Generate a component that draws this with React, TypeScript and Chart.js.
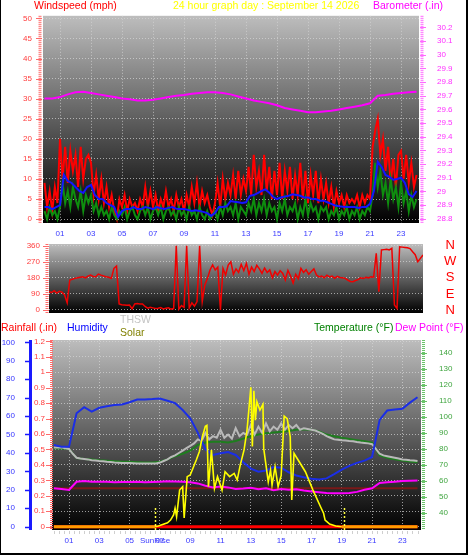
import React, { useEffect, useRef } from "react";
import { Chart, registerables } from "chart.js";

Chart.register(...registerables);

const FONT = "'Liberation Sans', Arial, Helvetica, sans-serif";
Chart.defaults.font.family = FONT;

// ---------------- data ----------------
const hourTicks = [1, 3, 5, 7, 9, 11, 13, 15, 17, 19, 21, 23];
const sunriseHour = 6.68;
const sunsetHour = 19.15;

const windTicks = [0, 5, 10, 15, 20, 25, 30, 35, 40, 45, 50];
const baroTicks = [28.8, 28.9, 29, 29.1, 29.2, 29.3, 29.4, 29.5, 29.6, 29.7, 29.8, 29.9, 30, 30.1, 30.2];

// wind gust (mph), every 10 min
const windGust = [
  9, 3, 7, 2, 8, 4,
  20, 10, 18, 9, 17, 12,
  16, 8, 18, 10, 15, 16,
  14, 6, 11, 5, 10, 4,
  8, 3, 6, 2, 0, 5,
  3, 6, 2, 5, 3, 4,
  2, 5, 3, 8, 3, 7,
  3, 6, 2, 5, 3, 7,
  3, 5, 2, 6, 3, 5,
  2, 6, 3, 8, 4, 9,
  3, 7, 4, 6, 3, 1,
  4, 9, 3, 10, 5, 9,
  6, 11, 5, 12, 6, 10,
  7, 13, 6, 16, 8, 12,
  6, 16, 7, 13, 5, 12,
  6, 14, 5, 12, 7, 13,
  5, 11, 6, 14, 5, 12,
  4, 11, 6, 12, 4, 10,
  5, 9, 4, 8, 3, 7,
  4, 6, 3, 6, 4, 5,
  4, 6, 3, 6, 4, 6,
  5, 18, 22, 25, 16, 20,
  12, 18, 9, 15, 8, 16,
  17, 10, 16, 9, 14, 8,
  11,
];

// average wind (mph), every 15 min
const windAvg = [
  3, 3, 2.5, 3,
  3.5, 11, 9.5, 9,
  8, 7, 6.5, 8,
  8.5, 6, 5, 5,
  4, 3.5, 3, 0.5,
  2, 2.5, 2.5, 3,
  2.5, 2.5, 3, 2.8,
  2.5, 3, 2.7, 2.5,
  2.8, 3, 2.6, 2.5,
  2.5, 2.3, 2, 2.2,
  2, 1.8, 1.5, 0.8,
  1.5, 3, 3, 3.2,
  4.5, 4.3, 4.2, 4,
  4.2, 5.8, 6, 6.5,
  7, 7.4, 6.6, 5.5,
  5, 5.4, 5.6, 5.8,
  6.2, 6, 5.8, 5.4,
  5.4, 5, 5, 4.6,
  4.6, 4.2, 3.8, 3.4,
  3.2, 3.1, 3, 3,
  3, 2.8, 3, 3,
  3.8, 7, 14.3, 13,
  11, 10.5, 9.8, 10,
  10.3, 9, 6.2, 5.5,
  7,
];

// wind speed (mph), every 10 min
const windSpeed = [
  2, 0, 3, 1, 2, 0,
  3, 9, 4, 7, 3, 8,
  5, 3, 7, 2, 6, 4,
  6, 2, 4, 1, 3, 1,
  2, 0, 3, 1, 0, 2,
  1, 3, 0, 2, 3, 1,
  0, 2, 3, 1, 3, 0,
  2, 3, 1, 3, 0, 2,
  3, 1, 2, 0, 3, 1,
  2, 0, 3, 1, 2, 0,
  3, 1, 0, 2, 0, 1,
  2, 0, 3, 1, 4, 2,
  3, 1, 4, 0, 3, 2,
  1, 4, 2, 5, 1, 4,
  2, 5, 1, 4, 2, 3,
  0, 4, 2, 5, 1, 3,
  2, 4, 0, 3, 1, 5,
  1, 4, 2, 3, 0, 3,
  2, 3, 0, 2, 1, 3,
  0, 2, 1, 3, 0, 2,
  1, 3, 0, 2, 1, 3,
  2, 6, 14, 8, 12, 6,
  9, 4, 10, 5, 8, 3,
  9, 4, 7, 2, 6, 3,
  5,
];

// barometer (inHg), every 30 min
const barometer = [
  29.68, 29.68, 29.69, 29.71, 29.725, 29.73, 29.72, 29.71, 29.7, 29.69,
  29.68, 29.675, 29.665, 29.665, 29.67, 29.68, 29.69, 29.7, 29.705, 29.715,
  29.72, 29.725, 29.725, 29.72, 29.71, 29.695, 29.68, 29.665, 29.655, 29.645,
  29.63, 29.61, 29.6, 29.59, 29.58, 29.58, 29.585, 29.59, 29.6, 29.61,
  29.62, 29.63, 29.645, 29.7, 29.705, 29.715, 29.72, 29.725, 29.73,
];

// wind direction (degrees), every 10 min
const dirTicks = [0, 90, 180, 270, 360];
const dirLetters = ["N", "E", "S", "W", "N"];
const windDir = [
  103, 98, 108, 95, 105, 100,
  84, 40, 168, 172, 177, 180,
  183, 186, 180, 190, 196, 188,
  186, 201, 195, 190, 186, 183,
  177, 233, 246, 34, 30, 28,
  26, 28, 7, 34, 36, 34,
  34, 20, 10, 15, 12, 8,
  10, 14, 6, 10, 12, 5,
  8, 360, 5, 25, 15, 360,
  12, 40, 22, 47, 360, 47,
  140, 177, 224, 252, 224, 240,
  0, 233, 196, 252, 270, 200,
  230, 210, 255, 220, 261, 200,
  240, 215, 250, 230, 205, 235,
  210, 224, 180, 215, 195, 220,
  205, 168, 222, 190, 150, 200,
  175, 233, 210, 225, 200, 215,
  230, 196, 185, 190, 180, 195,
  185, 190, 178, 188, 182, 180,
  177, 168, 160, 158, 165, 170,
  180, 176, 183, 180, 186, 184,
  317, 103, 336, 338, 340, 336,
  345, 28, 9, 354, 352, 350,
  348, 344, 326, 310, 270, 289,
  308,
];

// bottom panel
const humTicks = [0, 10, 20, 30, 40, 50, 60, 70, 80, 90, 100];
const rainTicks = [0, 0.1, 0.2, 0.3, 0.4, 0.5, 0.6, 0.7, 0.8, 0.9, 1, 1.1, 1.2];
const tempTicks = [40, 50, 60, 70, 80, 90, 100, 110, 120, 130, 140];

// humidity (%), every 30 min
const humidity = [
  44.3, 43.4, 43.4, 61.5, 64.8, 62.4, 64.5, 65.3, 66, 66.3,
  67.5, 69, 69, 69.2, 69.5, 68.3, 67, 63.3, 58.8, 51,
  42, 38.9, 39.8, 40.5, 38.9, 35, 31.5, 29.8, 30.5, 32.4,
  32, 29.5, 27.8, 26.8, 26, 25.6, 26.2, 28.5, 31, 33,
  34.6, 35.8, 37.8, 57.9, 63, 63.5, 64, 67.3, 70.2,
];

// temperature (F), every 30 min
const temperature = [
  80.5, 80.3, 80, 74.3, 73.8, 73.5, 73, 72.7, 72.3, 72,
  72, 71.7, 71.5, 71.5, 72, 73.5, 75.5, 77, 79, 82.5,
  84, 84.5, 84.5, 84, 85, 86.5, 88, 89, 89.8, 90.3,
  90.8, 91.2, 92, 92.3, 92, 91, 89, 88, 87, 86.3,
  85.5, 84.8, 84, 76, 74.5, 73.5, 72.8, 72.2, 71.7,
];

// dew point (F), every 30 min
const dewPoint = [
  55.4, 55, 54.4, 59.5, 60, 59.6, 59.5, 59.6, 59.2, 59.4,
  59.3, 59.5, 59.2, 59.4, 59.6, 59.8, 59.7, 59.6, 59.2, 58.5,
  57, 56, 56.5, 56, 55, 55.3, 55.8, 54.9, 55.5, 54.2,
  55, 54.6, 54.8, 54, 53.5, 53, 52.5, 52.3, 52.3, 52.5,
  53.2, 54.5, 55.4, 58.8, 59.2, 59.5, 60, 60.2, 60.3,
];

// THSW index (F), every 15 min
const thsw = [
  81, 81, 81, 80.5,
  80, 77, 74.5, 74,
  73.8, 73.5, 73, 72.8,
  72.5, 72.3, 72, 71.8,
  71.5, 71.4, 71.3, 71.3,
  71.2, 71.1, 71, 71,
  71, 71, 71, 71,
  71.5, 72.5, 73.5, 75,
  76, 77.5, 79, 80.5,
  82, 83.5, 86, 85,
  90, 86, 88, 87,
  92, 87, 89, 86.5,
  93, 88, 90, 89,
  95, 89, 94, 90,
  96, 91, 94, 92,
  96, 92, 95, 93,
  95, 92, 93, 92.5,
  92, 91.5, 90.5, 89.5,
  88, 87, 86, 85.8,
  85.5, 85.3, 85, 84.8,
  84.3, 84, 83.8, 83.5,
  83, 80, 77, 76,
  75.5, 75, 74.5, 74,
  73.5, 73.3, 73, 72.8,
  72.5,
];

// solar radiation (W/m2)
const solarHours = [
  0, 6.68, 6.9, 7.5, 7.7, 7.9, 8.0, 8.1, 8.3, 8.5,
  8.6, 8.8, 9.0, 9.4, 9.6, 9.8, 10.0, 10.1, 10.2, 10.4,
  10.6, 10.8, 11.1, 11.3, 11.6, 11.9, 12.1, 12.3, 12.55, 12.75,
  13.0, 13.1, 13.2, 13.3, 13.4, 13.6, 13.8, 13.85, 14.15, 14.3,
  14.4, 14.6, 14.8, 15.0, 15.2, 15.4, 15.6, 15.7, 15.85, 16.05,
  16.6, 17.1, 17.6, 17.8, 17.9, 18.2, 18.6, 19.0, 24,
];
const solarValues = [
  0, 0, 5, 25, 43, 76, 119, 65, 237, 259,
  56, 324, 335, 432, 485, 582, 650, 656, 259, 496,
  248, 324, 237, 356, 324, 345, 302, 399, 496, 626,
  902, 520, 880, 690, 809, 755, 792, 507, 291, 367,
  270, 388, 259, 330, 716, 700, 582, 173, 475, 443,
  356, 237, 129, 87, 43, 17, 5, 0, 0,
];

// rainfall (in), hourly
const rainfall = [0, 0, 0, 0, 0, 0, 0, 0, 0, 0, 0, 0, 0, 0, 0, 0, 0, 0, 0, 0, 0, 0, 0, 0, 0];

// flat reference line (F)
const refHours = [0, 24];
const refValues = [55.4, 55.4];

// ---------------- helpers ----------------
const pts = (vals: number[], step: number) => vals.map((y, i) => ({ x: i * step, y }));
const pairs = (xs: number[], ys: number[]) => xs.map((x, i) => ({ x, y: ys[i] }));
const fixW = (w: number) => (s: any) => { s.width = w; };
const fixH = (h: number) => (s: any) => { s.height = h; };
const setTicks = (vals: number[]) => (s: any) => { s.ticks = vals.map((value) => ({ value })); };
const num = (v: any) => String(Math.round(Number(v) * 100) / 100);
const hh = (v: any) => String(v).padStart(2, "0");

const GRID = "rgba(215,215,215,0.7)";
const f8 = { family: FONT, size: 8 };

const bgPlugin = {
  id: "bgGrad",
  beforeDraw(chart: any) {
    const { ctx, chartArea: a } = chart;
    const g = ctx.createLinearGradient(0, a.top, 0, a.bottom);
    g.addColorStop(0, "#bdbdbd");
    g.addColorStop(1, "#000000");
    ctx.save();
    ctx.fillStyle = g;
    ctx.fillRect(a.left, a.top, a.right - a.left, a.bottom - a.top);
    ctx.restore();
  },
};

function vLine(ctx: any, x: number, y1: number, y2: number, color: string, width: number, dash: number[]) {
  ctx.save();
  ctx.setLineDash(dash);
  ctx.lineWidth = width;
  ctx.strokeStyle = color;
  ctx.beginPath();
  ctx.moveTo(x, y1);
  ctx.lineTo(x, y2);
  ctx.stroke();
  ctx.restore();
}
function tickMarks(ctx: any, scale: any, vals: number[], x1: number, x2: number, color: string, width = 1) {
  ctx.save();
  ctx.strokeStyle = color;
  ctx.lineWidth = width;
  ctx.beginPath();
  vals.forEach((v) => {
    const y = Math.round(scale.getPixelForValue(v)) + 0.5;
    ctx.moveTo(x1, y);
    ctx.lineTo(x2, y);
  });
  ctx.stroke();
  ctx.restore();
}

const baseOptions = {
  responsive: false,
  animation: false,
  devicePixelRatio: 1,
  events: [],
  plugins: { legend: { display: false }, tooltip: { enabled: false } },
  elements: { point: { radius: 0 }, line: { tension: 0 } },
};

function cfgTop(): any {
  return {
    type: "line",
    data: {
      datasets: [
        { data: pts(barometer, 0.5), yAxisID: "yBaro", borderColor: "#ff00ff", borderWidth: 2, order: 0 },
        { data: pts(windAvg, 0.25), yAxisID: "y", borderColor: "#1414ff", borderWidth: 2, order: 1 },
        { data: pts(windSpeed, 1 / 6), yAxisID: "y", borderColor: "#0e8e0e", borderWidth: 2, order: 2 },
        { data: pts(windGust, 1 / 6), yAxisID: "y", borderColor: "#ff0000", borderWidth: 2, order: 3 },
      ],
    },
    options: {
      ...baseOptions,
      layout: { padding: { top: 10, bottom: 315, left: 0, right: 0 } },
      scales: {
        x: {
          type: "linear", min: -0.097, max: 24.16,
          afterFit: fixH(17), afterBuildTicks: setTicks(hourTicks),
          grid: { color: GRID, drawTicks: false }, border: { display: false, dash: [1, 2] },
          ticks: { color: "#3a3aff", font: f8, padding: 6, autoSkip: false, maxRotation: 0, callback: hh },
        },
        y: {
          position: "left", min: -0.97, max: 50.65,
          afterFit: fixW(43), afterBuildTicks: setTicks(windTicks),
          grid: { color: GRID, drawTicks: false }, border: { display: false, dash: [1, 2] },
          ticks: { color: "#ff3c3c", font: f8, padding: 11, autoSkip: false, callback: num },
        },
        yBaro: {
          position: "right", min: 28.768, max: 30.2855,
          afterFit: fixW(49), afterBuildTicks: setTicks(baroTicks),
          grid: { display: false }, border: { display: false },
          ticks: { color: "#ff30ff", font: f8, padding: 10, autoSkip: false, callback: num },
        },
      },
    },
    plugins: [
      bgPlugin,
      {
        id: "decoTop",
        afterDraw(chart: any) {
          const { ctx, chartArea: a, scales } = chart;
          vLine(ctx, scales.y.right - 3, a.top, a.bottom, "#ff6a6a", 3, [1, 1]);
          tickMarks(ctx, scales.y, windTicks, scales.y.right - 7, scales.y.right - 1, "#ff6a6a");
          vLine(ctx, scales.yBaro.left + 3, a.top, a.bottom, "#ff6aff", 3, [1, 1]);
          tickMarks(ctx, scales.yBaro, baroTicks, scales.yBaro.left + 1, scales.yBaro.left + 7, "#ff6aff");
        },
      },
    ],
  };
}

function cfgMid(): any {
  return {
    type: "line",
    data: {
      datasets: [{ data: pts(windDir, 1 / 6), yAxisID: "y", borderColor: "#f00000", borderWidth: 1.5 }],
    },
    options: {
      ...baseOptions,
      layout: { padding: { top: 244, bottom: 242, left: 0, right: 0 } },
      scales: {
        x: { type: "linear", display: false, min: 0, max: 24 },
        y: {
          position: "left", min: -16.8, max: 369.5,
          afterFit: fixW(49), afterBuildTicks: setTicks(dirTicks),
          grid: { color: GRID, drawTicks: false }, border: { display: false, dash: [1, 2] },
          ticks: { color: "#ff3c3c", font: f8, padding: 9, autoSkip: false, callback: num },
        },
        yDir: {
          position: "right", min: -16.8, max: 369.5,
          afterFit: fixW(45), afterBuildTicks: setTicks(dirTicks),
          grid: { display: false }, border: { display: false },
          ticks: {
            color: "#ff0000", font: { family: FONT, size: 13 }, padding: 13, crossAlign: "center", autoSkip: false,
            callback: (v: any) => dirLetters[dirTicks.indexOf(Number(v))],
          },
        },
      },
    },
    plugins: [
      bgPlugin,
      {
        id: "decoMid",
        afterDraw(chart: any) {
          const { ctx, chartArea: a, scales } = chart;
          vLine(ctx, scales.y.right - 2, a.top, a.bottom, "#ff6a6a", 3, [1, 1]);
          tickMarks(ctx, scales.y, dirTicks, scales.y.right - 6, scales.y.right, "#ff6a6a");
        },
      },
    ],
  };
}

function cfgBottom(): any {
  const bottomTicks = [...hourTicks, sunriseHour].sort((a, b) => a - b);
  return {
    type: "line",
    data: {
      datasets: [
        {
          data: pairs(solarHours, solarValues), yAxisID: "ySolar", borderColor: "#ffff00", borderWidth: 1.6, order: 0,
          segment: {
            borderColor: (c: any) => (c.p0.parsed.y === 0 && c.p1.parsed.y === 0 ? "#ff9c00" : undefined),
            borderWidth: (c: any) => (c.p0.parsed.y === 0 && c.p1.parsed.y === 0 ? 3 : undefined),
          },
        },
        { data: pts(rainfall, 1), yAxisID: "yRain", borderColor: "#ff0000", borderWidth: 3, order: 1 },
        { data: pts(humidity, 0.5), yAxisID: "yHum", borderColor: "#1b2ee6", borderWidth: 2, order: 2 },
        { data: pts(thsw, 0.25), yAxisID: "yTemp", borderColor: "#b9b9b9", borderWidth: 2, order: 3 },
        { data: pts(temperature, 0.5), yAxisID: "yTemp", borderColor: "#1e7d1e", borderWidth: 2, order: 4 },
        { data: pts(dewPoint, 0.5), yAxisID: "yTemp", borderColor: "#ff00ff", borderWidth: 2, order: 5 },
        { data: pairs(refHours, refValues), yAxisID: "yTemp", borderColor: "#7a1818", borderWidth: 2, order: 6 },
      ],
    },
    options: {
      ...baseOptions,
      layout: { padding: { top: 340, bottom: 0, left: 0, right: 0 } },
      scales: {
        x: {
          type: "linear", min: -0.122, max: 24.23,
          afterFit: fixH(25), afterBuildTicks: setTicks(bottomTicks),
          grid: {
            color: (c: any) => (c.tick && c.tick.value === sunriseHour ? "rgba(0,0,0,0)" : GRID),
            drawTicks: false,
          },
          border: { display: false, dash: [1, 2] },
          ticks: {
            color: "#3a3aff", font: f8, padding: 6, autoSkip: false, maxRotation: 0,
            callback: (v: any) => (Number(v) === sunriseHour ? "SunRise" : hh(v)),
          },
        },
        yHum: {
          position: "left", weight: 1, min: -1.8, max: 101.25,
          afterFit: fixW(32), afterBuildTicks: setTicks(humTicks),
          grid: { display: false }, border: { display: false },
          ticks: { color: "#3434ff", font: f8, padding: 9, autoSkip: false, callback: num },
        },
        yRain: {
          position: "left", weight: 0, min: -0.0214, max: 1.2087,
          afterFit: fixW(20), afterBuildTicks: setTicks(rainTicks),
          grid: { color: GRID, drawTicks: false }, border: { display: false, dash: [1, 2] },
          ticks: { color: "#ff3c3c", font: f8, padding: 7, autoSkip: false, callback: num },
        },
        yTemp: {
          position: "right", min: 29.375, max: 148.1,
          afterFit: fixW(47), afterBuildTicks: setTicks(tempTicks),
          grid: { display: false }, border: { display: false },
          ticks: { color: "#3fa53f", font: f8, padding: 10, autoSkip: false, callback: num },
        },
        ySolar: { display: false, min: -21.4, max: 1208.7 },
      },
    },
    plugins: [
      bgPlugin,
      {
        id: "decoBottom",
        afterDraw(chart: any) {
          const { ctx, chartArea: a, scales } = chart;
          vLine(ctx, scales.yHum.right - 1.5, a.top, a.bottom, "#1a1aff", 3, []);
          tickMarks(ctx, scales.yHum, humTicks, scales.yHum.right - 7, scales.yHum.right - 2, "#1a1aff", 1.5);
          vLine(ctx, scales.yRain.right - 0.5, a.top, a.bottom, "#ff6a6a", 3, [1, 1]);
          tickMarks(ctx, scales.yRain, rainTicks, scales.yRain.right - 6, scales.yRain.right, "#ff6a6a");
          vLine(ctx, scales.yTemp.left + 2.5, a.top, a.bottom, "#6ac46a", 3, [1, 1]);
          tickMarks(ctx, scales.yTemp, tempTicks, scales.yTemp.left, scales.yTemp.left + 6, "#6ac46a");
          const xs = scales.x;
          [sunriseHour, sunsetHour].forEach((h) => {
            vLine(ctx, Math.round(xs.getPixelForValue(h)) + 0.5, a.bottom - 22, a.bottom, "#ffff40", 1.5, [2, 2]);
          });
          ctx.save();
          ctx.strokeStyle = "#cfcfcf";
          ctx.lineWidth = 1;
          ctx.beginPath();
          for (let i = 0; i <= 72; i++) {
            const x = Math.round(xs.getPixelForValue(i / 3)) + 0.5;
            ctx.moveTo(x, a.bottom + 1);
            ctx.lineTo(x, a.bottom + 4);
          }
          ctx.stroke();
          ctx.restore();
        },
      },
    ],
  };
}

const txt = (left: number, top: number, color: string, text: string) => (
  <div
    style={{
      position: "absolute", left, top, color, fontFamily: FONT, fontSize: "10.5px",
      lineHeight: "12px", whiteSpace: "nowrap", zIndex: 5,
    }}
  >
    {text}
  </div>
);

export default function App() {
  const refA = useRef<HTMLCanvasElement | null>(null);
  const refB = useRef<HTMLCanvasElement | null>(null);
  const refC = useRef<HTMLCanvasElement | null>(null);

  useEffect(() => {
    const charts = [
      new Chart(refA.current as HTMLCanvasElement, cfgTop()),
      new Chart(refB.current as HTMLCanvasElement, cfgMid()),
      new Chart(refC.current as HTMLCanvasElement, cfgBottom()),
    ];
    return () => charts.forEach((c) => c.destroy());
  }, []);

  const cv: React.CSSProperties = { position: "absolute", left: 0, top: 0, width: 468, height: 555 };

  return (
    <div style={{ position: "absolute", left: 0, top: 0, width: 468, height: 555, background: "#fff", overflow: "hidden" }}>
      <canvas ref={refA} width={468} height={555} style={cv} />
      <canvas ref={refB} width={468} height={555} style={cv} />
      <canvas ref={refC} width={468} height={555} style={cv} />
      {txt(34, -1, "#ff0000", "Windspeed (mph)")}
      {txt(173, -1, "#ffff00", "24 hour graph day : September 14 2026")}
      {txt(373, -1, "#ff00ff", "Barometer (.in)")}
      {txt(1, 321, "#ff0000", "Rainfall (.in)")}
      {txt(67, 321, "#0000ff", "Humidity")}
      {txt(120, 313, "#c4c4c4", "THSW")}
      {txt(120, 325.5, "#808000", "Solar")}
      {txt(314, 321, "#008000", "Temperature (°F)")}
      {txt(395, 321, "#ff00ff", "Dew Point (°F)")}
      <div style={{ position: "absolute", left: 0, top: 0, width: 1, height: 555, background: "#000", zIndex: 6 }} />
      <div style={{ position: "absolute", left: 466, top: 0, width: 2, height: 555, background: "#000", zIndex: 6 }} />
      <div style={{ position: "absolute", left: 0, top: 553, width: 468, height: 2, background: "#000", zIndex: 6 }} />
    </div>
  );
}
